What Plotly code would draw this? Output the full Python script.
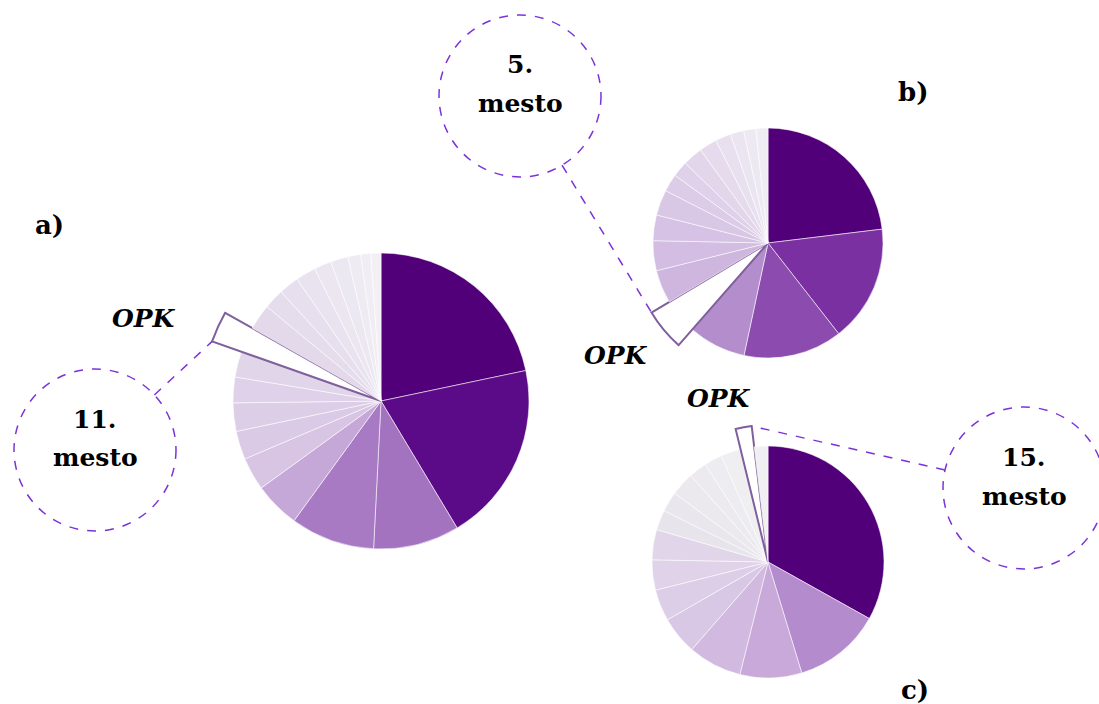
import math
import plotly.graph_objects as go

W, H = 1099, 704

# ---------------- data (slice shares in %, clockwise from 12 o'clock) ----------------
share_a = [21.7, 19.7, 9.4, 9.2, 5.0, 3.6, 3.1, 3.1, 2.8, 2.8, 2.8, 2.8, 2.2, 2.2, 2.2, 1.9, 1.9, 1.4, 1.1, 1.1]
share_b = [23.1, 16.4, 13.9, 8.1, 5.0, 4.7, 4.2, 3.6, 3.6, 2.5, 2.2, 2.8, 2.5, 2.2, 1.9, 1.7, 1.7]
share_c = [33.1, 12.2, 8.6, 7.5, 5.3, 4.4, 4.2, 4.2, 2.8, 2.8, 3.3, 2.5, 2.5, 2.8, 1.9, 1.9]

# rank (1-based position) of the OPK slice in each chart
opk_rank_a = 11
opk_rank_b = 5
opk_rank_c = 15

panel_labels = ["a)", "b)", "c)"]
opk_label = "OPK"
place_labels = ["11.", "5.", "15."]
place_word = "mesto"

colors_a = ["#52007a", "#5c0b88", "#a473c0", "#a97ac4", "#c6a8d8", "#d8c5e4", "#dbcae6", "#ddcee7",
            "#dfd1e9", "#e1d5ea", "#ffffff", "#e3d9eb", "#e5dcec", "#e7dfee", "#e9e3ef", "#ebe6f0",
            "#ece8f1", "#eeebf2", "#f0eef4", "#f2f0f5"]
colors_b = ["#52007a", "#7a30a1", "#8b4baf", "#b48dcd", "#ffffff", "#cfb6df", "#d3bde2", "#d6c2e4",
            "#d9c7e6", "#dccce7", "#dfd1e9", "#e2d6eb", "#e5dbed", "#e8e0ef", "#ebe5f1", "#ede9f2",
            "#efecf4"]
colors_c = ["#52007a", "#b48bcc", "#c8a9da", "#d1b9e0", "#d9c8e5", "#ddcee7", "#dfd2e9", "#e1d5ea",
            "#e8e4ec", "#e9e6ed", "#ebe8ee", "#eceaef", "#edecf0", "#efeef1", "#ffffff", "#f0f0f2"]

# ---------------- layout geometry (pixels) ----------------
panels = [
    dict(share=share_a, colors=colors_a, rank=opk_rank_a, cx=381, cy=401, rad=148, rmax=1.25, pull=1.21,
         corner="start", circle=(95, 450), opk_xy=(144, 318), lab_xy=(49, 225)),
    dict(share=share_b, colors=colors_b, rank=opk_rank_b, cx=768, cy=243, rad=115, rmax=1.22, pull=1.18,
         corner="end", circle=(520, 96), opk_xy=(616, 355), lab_xy=(913, 92)),
    dict(share=share_c, colors=colors_c, rank=opk_rank_c, cx=768, cy=562, rad=116, rmax=1.2, pull=1.18,
         corner="end", circle=(1024, 488), opk_xy=(719, 398), lab_xy=(915, 690)),
]
CIRCLE_R = 81
DASH_COLOR = "#7b33d8"
OPK_LINE = "#7f5f9c"
FONT = "DejaVu Serif"


def px(x):
    return x / W


def py(y):
    return 1 - y / H


def label(x, y, text, size):
    return dict(x=px(x), y=py(y), xref="paper", yref="paper", text=text, showarrow=False,
                xanchor="center", yanchor="middle", font=dict(family=FONT, size=size, color="black"))


fig = go.Figure()
layout_polars = {}
shapes = []
annotations = []

for i, p in enumerate(panels):
    vals = p["share"]
    tot = sum(vals)
    widths = [v / tot * 360 for v in vals]
    starts = []
    acc = 0.0
    for w in widths:
        starts.append(acc)
        acc += w
    thetas = [s + w / 2 for s, w in zip(starts, widths)]
    k = p["rank"] - 1
    rs = [1.0] * len(vals)
    rs[k] = p["pull"]
    lcol = ["rgba(255,255,255,0.55)"] * len(vals)
    lcol[k] = OPK_LINE
    lw = [1] * len(vals)
    lw[k] = 2
    name = "polar" if i == 0 else f"polar{i + 1}"
    fig.add_trace(go.Barpolar(
        r=rs, theta=thetas, width=widths, subplot=name,
        marker=dict(color=p["colors"], line=dict(color=lcol, width=lw)),
        hoverinfo="skip", showlegend=False,
    ))
    R = p["rad"] * p["rmax"]
    layout_polars[name] = dict(
        domain=dict(x=[px(p["cx"] - R), px(p["cx"] + R)], y=[py(p["cy"] + R), py(p["cy"] - R)]),
        bgcolor="rgba(0,0,0,0)",
        bargap=0,
        radialaxis=dict(range=[0, p["rmax"]], visible=False, showgrid=False),
        angularaxis=dict(visible=False, showgrid=False, rotation=90, direction="clockwise"),
    )
    # tip of the OPK slice (from data) and connector to the dashed circle
    ang = starts[k] if p["corner"] == "start" else starts[k] + widths[k]
    tr = p["pull"] * p["rad"]
    tx = p["cx"] + tr * math.sin(math.radians(ang))
    ty = p["cy"] - tr * math.cos(math.radians(ang))
    ccx, ccy = p["circle"]
    dx, dy = tx - ccx, ty - ccy
    d = math.hypot(dx, dy)
    ex, ey = ccx + dx / d * CIRCLE_R, ccy + dy / d * CIRCLE_R
    shapes.append(dict(type="line", xref="paper", yref="paper", x0=px(ex), y0=py(ey), x1=px(tx), y1=py(ty),
                       line=dict(color=DASH_COLOR, width=1.5, dash="dash")))
    shapes.append(dict(type="circle", xref="paper", yref="paper",
                       x0=px(ccx - CIRCLE_R), x1=px(ccx + CIRCLE_R), y0=py(ccy + CIRCLE_R), y1=py(ccy - CIRCLE_R),
                       line=dict(color=DASH_COLOR, width=1.5, dash="dash"), fillcolor="rgba(0,0,0,0)"))
    annotations.append(label(ccx, ccy - 31, f"<b>{place_labels[i]}</b>", 25))
    annotations.append(label(ccx, ccy + 8, f"<b>{place_word}</b>", 25))
    ox, oy = p["opk_xy"]
    annotations.append(label(ox, oy, f"<b><i>{opk_label}</i></b>", 25))
    lx, ly = p["lab_xy"]
    annotations.append(label(lx, ly, f"<b>{panel_labels[i]}</b>", 26))

fig.update_layout(
    width=W, height=H,
    margin=dict(l=0, r=0, t=0, b=0),
    paper_bgcolor="white", plot_bgcolor="white",
    shapes=shapes, annotations=annotations,
    showlegend=False,
    **layout_polars,
)

fig.write_html("out.html", config={"displayModeBar": False},
               post_script="document.body.style.margin='0';document.body.style.overflow='hidden';")
